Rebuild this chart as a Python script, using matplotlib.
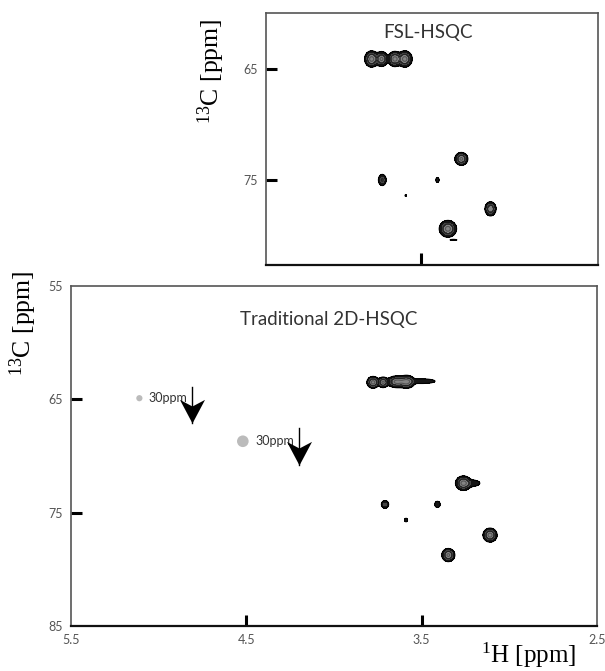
import numpy as np
import matplotlib
matplotlib.use('Agg')
import matplotlib.pyplot as plt
from matplotlib.path import Path
from matplotlib.markers import MarkerStyle

plt.rcParams['mathtext.fontset'] = 'custom'
plt.rcParams['mathtext.rm'] = 'Liberation Serif'
plt.rcParams['mathtext.it'] = 'Liberation Serif:italic'

SANS = ['Liberation Sans Narrow', 'Lato', 'DejaVu Sans']
SERIF = ['Liberation Serif', 'DejaVu Serif']

# ---------------- data ----------------
# FSL-HSQC cross peaks (1H ppm, 13C ppm, relative intensity, line widths)
fsl_h   = [3.785, 3.728, 3.652, 3.595, 3.271, 3.724, 3.408, 3.590, 3.104, 3.348, 3.315]
fsl_c   = [64.1, 64.1, 64.1, 64.1, 73.1, 75.0, 75.0, 76.4, 77.6, 79.4, 80.4]
fsl_amp = [1.0, 0.9, 1.0, 1.0, 0.9, 0.45, 0.10, 0.09, 0.8, 1.0, 0.09]
fsl_wh  = [0.017, 0.016, 0.017, 0.018, 0.016, 0.011, 0.009, 0.004, 0.014, 0.021, 0.02]
fsl_wc  = [0.31, 0.29, 0.29, 0.31, 0.25, 0.25, 0.22, 0.08, 0.28, 0.32, 0.05]

# Traditional 2D-HSQC cross peaks
trad_h   = [3.777, 3.720, 3.640, 3.585, 3.500, 3.262, 3.215, 3.709, 3.410, 3.589, 3.110, 3.348]
trad_c   = [63.5, 63.5, 63.45, 63.45, 63.4, 72.4, 72.4, 74.27, 74.27, 75.65, 76.98, 78.74]
trad_amp = [1.0, 0.9, 1.0, 1.0, 0.25, 1.0, 0.2, 0.35, 0.25, 0.12, 1.0, 0.9]
trad_wh  = [0.015, 0.013, 0.025, 0.020, 0.045, 0.019, 0.030, 0.011, 0.009, 0.007, 0.017, 0.016]
trad_wc  = [0.22, 0.20, 0.22, 0.24, 0.12, 0.27, 0.18, 0.18, 0.16, 0.13, 0.26, 0.25]

# aliased (folded, 30 ppm) peaks and their arrows
alias_h = [5.11, 4.52]
alias_c = [64.9, 68.7]
alias_size = [20, 70]
alias_label = ['30ppm', '30ppm']
arrow_h = [4.81, 4.20]
arrow_top = [63.9, 67.5]
arrow_tip = [67.07, 70.8]

# axis ticks
trad_yticks = [55, 65, 75, 85]
trad_xticks = [5.5, 4.5, 3.5, 2.5]
fsl_yticks = [65, 75]
fsl_xticks = [3.5]

fill_levels = [0.06, 0.28, 0.65, 10.0]
fill_colors = ['#161616', '#454545', '#858585']
line_levels = [0.06, 0.4, 0.8]
line_colors = ['#000000', '#222222', '#555555']


def spectrum(H, C, hs, cs, amps, whs, wcs):
    Z = np.zeros_like(H)
    for h0, c0, a, wh, wc in zip(hs, cs, amps, whs, wcs):
        Z += a * np.exp(-0.5 * ((H - h0) / wh) ** 2 - 0.5 * ((C - c0) / wc) ** 2)
    return Z


hg = np.linspace(2.9, 4.0, 1600)
cg = np.linspace(60.0, 82.5, 1400)
H, C = np.meshgrid(hg, cg)

fig = plt.figure(figsize=(6.05, 6.71), dpi=100)

ax_b = fig.add_axes([71 / 605, 45 / 671, 526 / 605, 340 / 671])
ax_t = fig.add_axes([266 / 605, 406 / 671, 331.7 / 605, 252.3 / 671])


def style(ax):
    for s in ['left', 'top', 'right']:
        ax.spines[s].set_color('#555555')
        ax.spines[s].set_linewidth(1.2)
    ax.spines['bottom'].set_color('#111111')
    ax.spines['bottom'].set_linewidth(1.6)
    ax.tick_params(direction='in', length=8, width=2.2, color='black',
                   labelsize=9, labelcolor='#555555', pad=6)
    for lab in ax.get_xticklabels() + ax.get_yticklabels():
        lab.set_family(SANS)


def draw_peaks(ax, Z):
    ax.contourf(H, C, Z, levels=fill_levels, colors=fill_colors)
    ax.contour(H, C, Z, levels=line_levels, colors=line_colors, linewidths=0.8)


# ---- bottom: traditional HSQC ----
Zb = spectrum(H, C, trad_h, trad_c, trad_amp, trad_wh, trad_wc)
draw_peaks(ax_b, Zb)
ax_b.scatter(alias_h, alias_c, s=alias_size, color='#bbbbbb', edgecolors='none', zorder=3)
for h, c, lab, off in zip(alias_h, alias_c, alias_label, [6.5, 9.4]):
    ax_b.annotate(lab, (h, c), xytext=(off, 0), textcoords='offset points',
                  va='center', ha='left', fontsize=9, color='#333333', family=SANS)

head = Path([(0, 0), (0.53, 1.0), (0, 0.72), (-0.53, 1.0), (0, 0)],
            [Path.MOVETO, Path.LINETO, Path.LINETO, Path.LINETO, Path.CLOSEPOLY])
for h, top, tip in zip(arrow_h, arrow_top, arrow_tip):
    ax_b.plot([h, h], [top, tip], color='black', lw=1.0, zorder=4)
    ax_b.plot([h], [tip], marker=MarkerStyle(head), markersize=34, color='black',
              markeredgewidth=0, zorder=5)

ax_b.set_xlim(5.5, 2.5)
ax_b.set_ylim(85, 55)
ax_b.set_xticks(trad_xticks)
ax_b.set_xticklabels([f'{v:.1f}' for v in trad_xticks])
ax_b.set_yticks(trad_yticks)
ax_b.set_yticklabels([str(v) for v in trad_yticks])
style(ax_b)
for t in ax_b.yaxis.get_major_ticks():
    if t.get_loc() in (55, 85):
        t.tick1line.set_visible(False)
for t in ax_b.xaxis.get_major_ticks():
    if t.get_loc() in (5.5, 2.5):
        t.tick1line.set_visible(False)

ax_b.text(0.49, 0.9, 'Traditional 2D-HSQC', transform=ax_b.transAxes,
          ha='center', va='center', fontsize=13.5, color='#333333', family=SANS)
ax_b.set_ylabel(r'$\mathregular{^{13}}$C [ppm]', fontsize=18.5, family=SERIF, va='center')
ax_b.yaxis.set_label_coords(-0.091, 0.89)
ax_b.set_xlabel(r'$\mathregular{^{1}}$H [ppm]', fontsize=18, family=SERIF, va='center')
ax_b.xaxis.set_label_coords(0.869, -0.087)

# ---- top: FSL-HSQC ----
Zt = spectrum(H, C, fsl_h, fsl_c, fsl_amp, fsl_wh, fsl_wc)
draw_peaks(ax_t, Zt)
ax_t.set_xlim(4.39, 2.49)
ax_t.set_ylim(82.66, 59.93)
ax_t.set_xticks(fsl_xticks)
ax_t.set_xticklabels([])
ax_t.set_yticks(fsl_yticks)
ax_t.set_yticklabels([str(v) for v in fsl_yticks])
style(ax_t)
ax_t.tick_params(axis='x', length=9)
ax_t.text(0.488, 0.923, 'FSL-HSQC', transform=ax_t.transAxes,
          ha='center', va='center', fontsize=13.5, color='#333333', family=SANS)
ax_t.set_ylabel(r'$\mathregular{^{13}}$C [ppm]', fontsize=18.5, family=SERIF, va='center')
ax_t.yaxis.set_label_coords(-0.164, 0.767)

fig.savefig('out.png', dpi=100)
